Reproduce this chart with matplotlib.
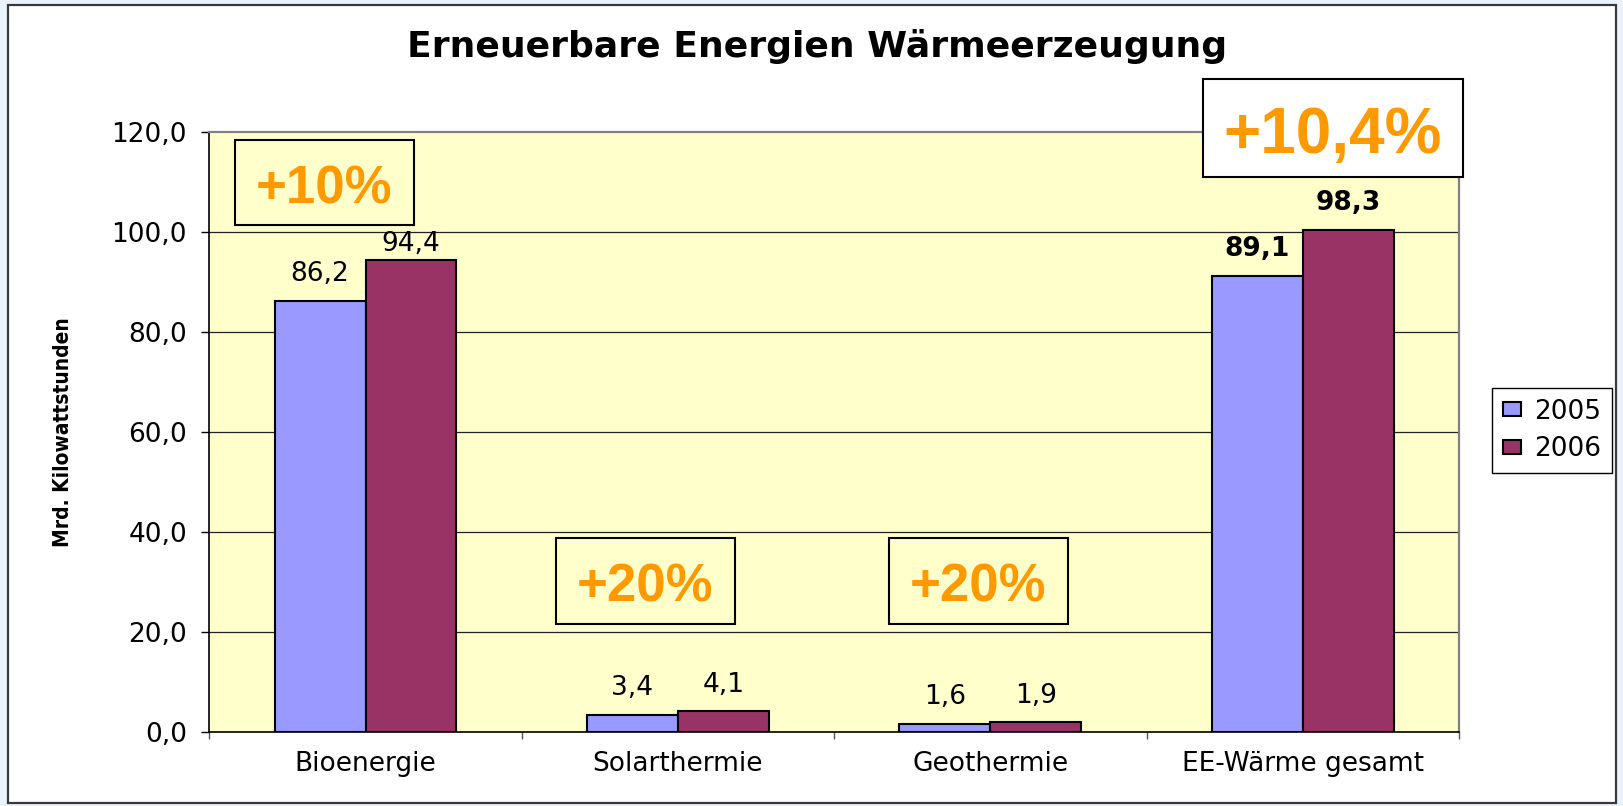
import numpy as np
import matplotlib
matplotlib.use("Agg")
import matplotlib.pyplot as plt
from matplotlib.patches import Rectangle

# data
categories = ["Bioenergie", "Solarthermie", "Geothermie", "EE-Wärme gesamt"]
years = ["2005", "2006"]
values_2005 = [86.2, 3.4, 1.6, 91.2]
values_2006 = [94.4, 4.1, 1.9, 100.4]
labels_2005 = ["86,2", "3,4", "1,6", "89,1"]
labels_2006 = ["94,4", "4,1", "1,9", "98,3"]
changes = ["+10%", "+20%", "+20%", "+10,4%"]

W, H = 1623, 806

def fx(px):
    return px / W

def fy(py):
    return 1 - py / H

fig = plt.figure(figsize=(W / 100, H / 100), dpi=100)
fig.patch.set_facecolor("#EAF3FD")
fig.patches.append(Rectangle((fx(7.5), fy(803)), fx(1616) - fx(7.5), fy(5) - fy(803),
                             transform=fig.transFigure, facecolor="white",
                             edgecolor="#3a3a3a", linewidth=1.6, zorder=-5))

ax = fig.add_axes([fx(209.3), fy(731.7), fx(1459) - fx(209.3), fy(131.7) - fy(731.7)])
ax.set_facecolor("#FFFFCC")
ax.set_zorder(1)

x = np.arange(len(categories))
bw = 0.291
b1 = ax.bar(x - bw / 2, values_2005, bw, color="#9999FF", edgecolor="black", linewidth=1.5, zorder=3)
b2 = ax.bar(x + bw / 2, values_2006, bw, color="#993366", edgecolor="black", linewidth=1.5, zorder=3)

ax.set_xlim(-0.5, 3.5)
ax.set_ylim(0, 120)
ax.set_yticks(np.arange(0, 121, 20))
ax.set_yticklabels([f"{v:.1f}".replace(".", ",") for v in np.arange(0, 121, 20)])
ax.tick_params(axis="y", direction="out", length=6, width=1, labelsize=19, pad=10)
ax.set_xticks(x)
ax.set_xticklabels(categories)
ax.tick_params(axis="x", which="major", length=0, labelsize=19, pad=14)
ax.set_xticks(np.arange(-0.5, 4, 1), minor=True)
ax.tick_params(axis="x", which="minor", direction="out", length=5, width=1, color="#555555")

for yv in range(20, 120, 20):
    ax.axhline(yv, color="#222222", linewidth=0.9, zorder=1)

for s in ["top", "right"]:
    ax.spines[s].set_color("#808080")
    ax.spines[s].set_linewidth(1.6)
for s in ["left", "bottom"]:
    ax.spines[s].set_color("black")
    ax.spines[s].set_linewidth(1.2)

offs_2005 = [14, 14, 14, 14]
offs_2006 = [6, 14, 14, 14]
for i in range(len(categories)):
    wt = "bold" if i == 3 else "normal"
    ax.annotate(labels_2005[i], (x[i] - bw / 2, values_2005[i]), xytext=(0, offs_2005[i]),
                textcoords="offset points", ha="center", va="baseline", fontsize=19, fontweight=wt)
    ax.annotate(labels_2006[i], (x[i] + bw / 2, values_2006[i]), xytext=(0, offs_2006[i]),
                textcoords="offset points", ha="center", va="baseline", fontsize=19, fontweight=wt)

fig.text(fx(817), fy(56.7), "Erneuerbare Energien Wärmeerzeugung", ha="center", va="baseline",
         fontsize=26, fontweight="bold")
fig.text(fx(63), fy(432), "Mrd. Kilowattstunden", rotation=90, ha="center", va="center",
         fontsize=15, fontweight="bold", fontstretch="condensed")

# boxes with percentage changes: (left, top, right, bottom, text baseline, fill, size)
boxes = [(235, 140, 414, 225, 203, "#FFFFCC", 38),
         (555.5, 538, 734.5, 624, 601, "#FFFFCC", 38),
         (888.5, 538, 1067.5, 624, 601, "#FFFFCC", 38),
         (1202.7, 79, 1462.7, 177.3, 152.7, "white", 46)]
for (l, t, r, b, base, fc, fs), txt in zip(boxes, changes):
    fig.patches.append(Rectangle((fx(l), fy(b)), fx(r) - fx(l), fy(t) - fy(b),
                                 transform=fig.transFigure, facecolor=fc,
                                 edgecolor="black", linewidth=1.5, zorder=5))
    fig.text(fx((l + r) / 2), fy(base), txt, ha="center", va="baseline", fontsize=fs,
             fontweight="bold", color="#FF9900", family="Liberation Sans", zorder=6)

leg = fig.legend([b1, b2], years, loc="center", bbox_to_anchor=(fx(1552), fy(430.5)),
                 fontsize=19, frameon=True, fancybox=False, framealpha=1, edgecolor="black",
                 handlelength=0.7, handleheight=0.45, handletextpad=0.5, labelspacing=0.45,
                 borderpad=0.4, borderaxespad=0)
leg.get_frame().set_linewidth(1)

fig.savefig("out.png", dpi=100, facecolor=fig.get_facecolor())
